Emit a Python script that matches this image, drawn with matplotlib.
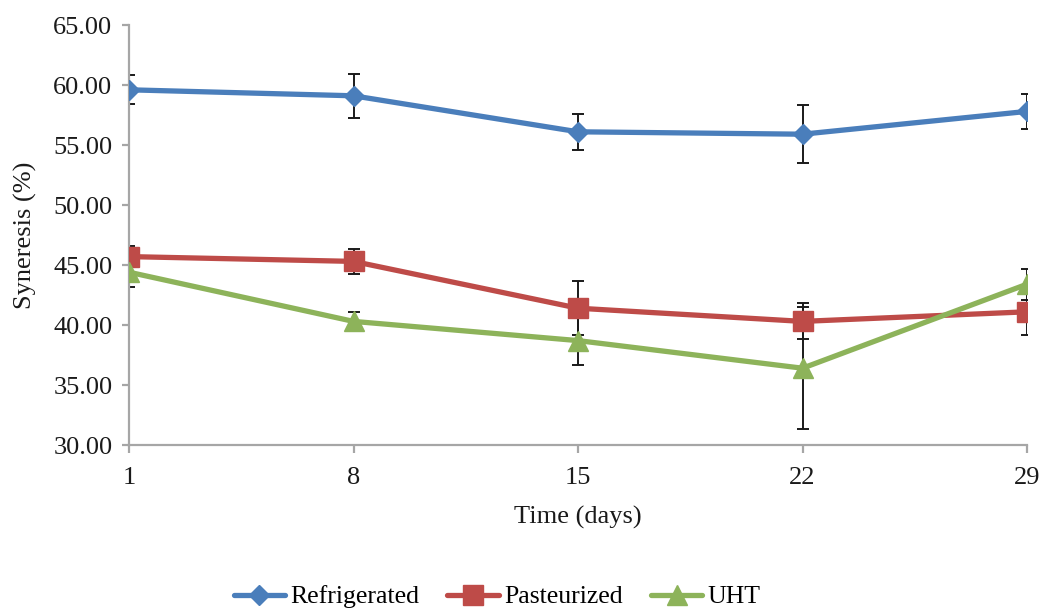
import numpy as np
import matplotlib
matplotlib.use("Agg")
import matplotlib.pyplot as plt
from matplotlib.lines import Line2D

days = [1, 8, 15, 22, 29]
refrigerated = [59.6, 59.1, 56.1, 55.9, 57.8]
refrigerated_err = [1.2, 1.85, 1.5, 2.4, 1.45]
pasteurized = [45.7, 45.3, 41.4, 40.3, 41.1]
pasteurized_err = [0.9, 1.05, 2.25, 1.5, 1.9]
uht = [44.4, 40.3, 38.7, 36.4, 43.4]
uht_err = [1.2, 0.8, 2.0, 5.1, 1.3]

series = [
    ("Refrigerated", refrigerated, refrigerated_err, "#4a7ebb", "D", 10),
    ("Pasteurized", pasteurized, pasteurized_err, "#be4b48", "s", 14),
    ("UHT", uht, uht_err, "#8db35a", "^", 14),
]

plt.rcParams['font.family'] = ['Liberation Serif', 'DejaVu Serif']

fig = plt.figure(figsize=(10.43, 6.10), dpi=100)
ax = fig.add_axes([129 / 1043, 1 - 445 / 610, (1027 - 129) / 1043, (445 - 25) / 610])

handles = []
for name, vals, errs, color, marker, ms in series:
    ax.errorbar(days, vals, yerr=errs, fmt="none", ecolor="#1a1a1a", elinewidth=1.4,
                capsize=4.5, capthick=1.4, zorder=2)
    ax.plot(days, vals, color=color, lw=3.8, zorder=3, marker=marker, markersize=ms,
            markeredgecolor=color, solid_joinstyle="round", solid_capstyle="round")
    handles.append(Line2D([0], [0], color=color, lw=3.8, marker=marker, markersize=ms,
                          markeredgecolor=color, solid_capstyle="round", label=name))

ax.set_xlim(1, 29)
ax.set_ylim(30, 65)
ax.set_xticks(days)
ax.set_xticklabels([str(d) for d in days])
yt = np.arange(30, 66, 5)
ax.set_yticks(yt)
ax.set_yticklabels([f"{v:.2f}" for v in yt])

for s in ["top", "right"]:
    ax.spines[s].set_visible(False)
for s in ["left", "bottom"]:
    ax.spines[s].set_color("#a6a6a6")
    ax.spines[s].set_linewidth(1.6)
ax.tick_params(axis="both", colors="#a6a6a6", width=1.6, labelsize=19,
               labelcolor="#1a1a1a")
ax.tick_params(axis="x", length=6, pad=10)
ax.tick_params(axis="y", length=5, pad=7)

ax.set_xlabel("Time (days)", fontsize=19, color="#1a1a1a", labelpad=12)
ax.set_ylabel("Syneresis (%)", fontsize=19, color="#1a1a1a", labelpad=12)

fig.legend(handles=handles, loc="center", bbox_to_anchor=(497 / 1043, 1 - 597 / 610), ncol=3,
           frameon=False, fontsize=18.5, handlelength=2.0, columnspacing=1.1,
           handletextpad=0.2, borderpad=0, borderaxespad=0)

fig.savefig("out.png", dpi=100)
